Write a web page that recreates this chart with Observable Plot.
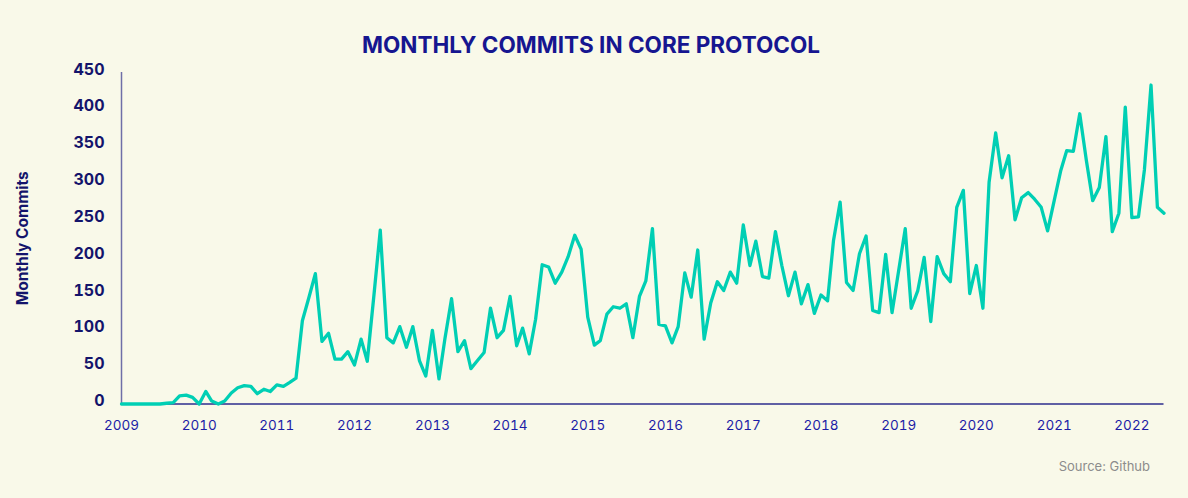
<!DOCTYPE html>
<html>
<head>
<meta charset="utf-8">
<script src="https://cdn.jsdelivr.net/npm/d3@7"></script>
<script src="https://cdn.jsdelivr.net/npm/@observablehq/plot@0.6"></script>
<style>
  html, body { margin: 0; padding: 0; background: #f9f9e9; }
  body { width: 1188px; height: 498px; overflow: hidden; font-family: Inter, "Open Sans", sans-serif; }
  #title { height: 62px; box-sizing: border-box; padding-top: 34px; text-align: center; font-weight: 700; font-size: 22.5px; line-height: 22px; color: #161690; padding-right: 6px; }
  #chart svg { display: block; background: transparent; }
  #source { text-align: right; padding-right: 38px; padding-top: 17px; font-size: 13px; color: #8c8c8c; line-height: 14px; }
</style>
</head>
<body>
<div id="title">MONTHLY COMMITS IN CORE PROTOCOL</div>
<div id="chart"></div>
<div id="source">Source: Github</div>
<script>
// Monthly commits, Jan 2009 .. Jun 2022
const firstMonth = "2009-01-01";
const lastMonth = "2022-06-01";
const commits = [
  0, 0, 0, 0, 0, 0, 0, 1, 2, 11, 12, 9,            // 2009
  0, 17, 4, 0, 4, 15, 22, 25, 24, 14, 20, 17,        // 2010
  26, 24, 29, 35, 113, 145, 177, 85, 96, 61, 61, 71, // 2011
  53, 88, 58, 147, 236, 90, 83, 105, 77, 105, 59, 38,// 2012
  100, 34, 89, 143, 71, 86, 48, 59, 70, 130, 90, 100,// 2013
  146, 79, 103, 68, 115, 189, 186, 164, 179, 200, 229, 210, // 2014
  118, 80, 86, 122, 132, 130, 136, 90, 146, 167, 238, 108,  // 2015
  106, 83, 105, 178, 145, 209, 88, 137, 166, 154, 179, 164, // 2016
  243, 188, 221, 173, 171, 234, 188, 147, 179, 136, 162, 123, // 2017
  148, 140, 222, 274, 165, 154, 204, 228, 127, 124, 203, 124, // 2018
  181, 238, 130, 154, 199, 112, 200, 177, 166, 267, 290, 150, // 2019
  188, 130, 301, 368, 307, 337, 250, 280, 287, 278, 267, 235, // 2020
  276, 317, 344, 343, 394, 331, 276, 294, 363, 234, 259, 403, // 2021
  253, 254, 318, 433, 267, 259                                // 2022
];
const yTicks = [0, 50, 100, 150, 200, 250, 300, 350, 400, 450];
const yLabel = "Monthly Commits";

const months = d3.utcMonth.range(new Date(firstMonth), d3.utcMonth.offset(new Date(lastMonth), 1));
const rows = commits.map((v, i) => ({date: months[i], commits: v}));

const navy = "#14146b";
const blue = "#1d1da6";

const chart = Plot.plot({
  width: 1188,
  height: 380,
  marginLeft: 121,
  marginRight: 24.5,
  marginTop: 10,
  marginBottom: 38.5,
  style: {background: "transparent", fontFamily: "Inter, 'Open Sans', sans-serif", overflow: "visible"},
  x: {type: "utc", domain: [new Date(firstMonth), new Date(lastMonth)]},
  y: {domain: [0, 450]},
  marks: [
    Plot.ruleX([new Date(firstMonth)], {y1: 0, y2: 450, stroke: "#6f6fa8", strokeWidth: 1.5}),
    Plot.ruleY([0], {stroke: "#2c2c8c", strokeWidth: 1.5}),
    Plot.line(rows, {x: "date", y: "commits", stroke: "#00cfb4", strokeWidth: 3.3, strokeLinejoin: "round", strokeLinecap: "round"}),
    Plot.axisX({ticks: d3.utcYear.every(1), tickFormat: "%Y", tickSize: 0, tickPadding: 16, fontSize: 13.5, fill: blue, label: null}),
    Plot.axisY({ticks: yTicks, tickSize: 0, tickPadding: 17, dy: -3, fontSize: 16, fontWeight: 700, fill: navy, label: null}),
    Plot.text([yLabel], {frameAnchor: "left", dx: -98, rotate: -90, textAnchor: "middle", fontSize: 15.5, fontWeight: 700, fill: navy})
  ]
});
document.getElementById("chart").appendChild(chart);
</script>
</body>
</html>
